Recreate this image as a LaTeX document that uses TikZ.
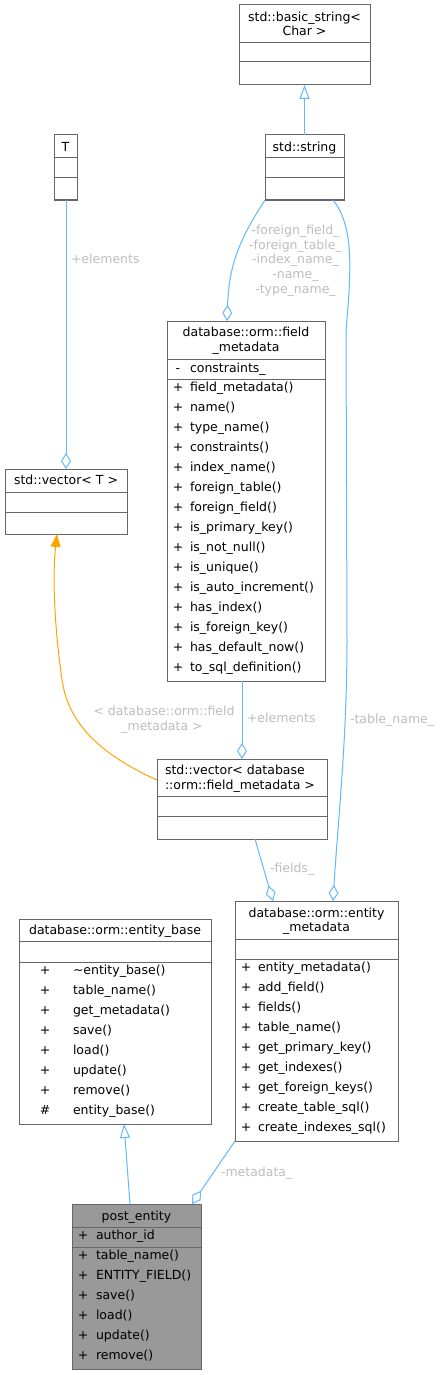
\documentclass[tikz,border=0pt]{standalone}
\usepackage{fontspec}
\setmainfont{DejaVu Sans}
\usetikzlibrary{arrows.meta,calc}
\definecolor{boxc}{HTML}{666666}
\definecolor{edgec}{HTML}{63B8FF}
\definecolor{orangec}{HTML}{FFA500}
\definecolor{labc}{HTML}{BEBEBE}
\definecolor{fillc}{HTML}{999999}
\tikzset{
 umlbox/.style={draw=boxc, line width=1pt, inner sep=0pt, outer sep=0pt, anchor=north west},
 divider/.style={draw=boxc, line width=1pt},
 txt/.style={inner sep=0pt, outer sep=0pt, font=\fontsize{12.5}{15}\selectfont, text=black},
 tl/.style={txt, anchor=base},
 tw/.style={txt, anchor=base west},
 sym/.style={txt, anchor=base},
 labw/.style={txt, text=labc, anchor=base west},
 labc/.style={txt, text=labc, anchor=base},
 agg/.style={draw=edgec, line width=1pt, arrows={Diamond[open,length=16pt,width=10pt]-}},
 inh/.style={draw=edgec, line width=1pt, arrows={-Triangle[open,length=14pt,width=10pt]}},
 tmpl/.style={draw=orangec, line width=1pt, arrows={-Triangle[length=13pt,width=10pt,fill=orangec]}}
}
\newcommand\mkbox[6]{\node[umlbox, fill=#6, minimum width=#4pt, minimum height=#5pt] (#1) at (#2,#3) {};}
\begin{document}
\begin{tikzpicture}[x=1pt,y=-1pt]
\fill[white] (0,0) rectangle (445,1375);
\useasboundingbox (0,0) rectangle (445,1375);

% boxes
\mkbox{bs}{239}{5}{131}{80}{white}
\draw[divider] (239,43) -- (370,43); \draw[divider] (239,62) -- (370,62);
\node[tl] (bs-t1) at (304.5,21.5) {std::basic\_string<};
\node[tl] (bs-t2) at (304.5,35.5) {Char >};

\mkbox{str}{265}{135}{79}{65}{white}
\draw[divider] (265,158) -- (344,158); \draw[divider] (265,178) -- (344,178);
\node[tl] (str-t) at (304.5,151.5) {std::string};

\mkbox{T}{54}{135}{23}{65}{white}
\draw[divider] (54,158) -- (77,158); \draw[divider] (54,178) -- (77,178);
\node[tl] (T-t) at (65.5,151.5) {T};

\mkbox{fm}{167}{321}{158}{360}{white}
\draw[divider] (167,359) -- (325,359); \draw[divider] (167,379) -- (325,379);
\node[tl] (fm-t1) at (246,336.5) {database::orm::field};
\node[tl] (fm-t2) at (246,351.5) {\_metadata};
\node[sym] (fm-as) at (178,372.5) {-};
\node[tw] (fm-a) at (190,372.5) {constraints\_};
\foreach \t [count=\i from 0] in {{field\_metadata()},{name()},{type\_name()},{constraints()},{index\_name()},{foreign\_table()},{foreign\_field()},{is\_primary\_key()},{is\_not\_null()},{is\_unique()},{is\_auto\_increment()},{has\_index()},{is\_foreign\_key()},{has\_default\_now()},{to\_sql\_definition()}}{
  \node[sym] (fm-s\i) at (178,{391.5+20*\i}) {+};
  \node[tw] (fm-m\i) at (190,{391.5+20*\i}) {\t};
}

\mkbox{vt}{5}{469}{122}{65}{white}
\draw[divider] (5,492) -- (127,492); \draw[divider] (5,512) -- (127,512);
\node[tl] (vt-t) at (66,484.5) {std::vector< T >};

\mkbox{vdb}{157}{759}{170}{80}{white}
\draw[divider] (157,796) -- (327,796); \draw[divider] (157,816) -- (327,816);
\node[tw] (vdb-t1) at (165,774.5) {std::vector< database};
\node[tw] (vdb-t2) at (165,789.5) {::orm::field\_metadata >};

\mkbox{em}{235}{901}{163}{240}{white}
\draw[divider] (235,939) -- (398,939); \draw[divider] (235,959) -- (398,959);
\node[tl] (em-t1) at (316.5,917.5) {database::orm::entity};
\node[tl] (em-t2) at (316.5,931.5) {\_metadata};
\foreach \t [count=\i from 0] in {{entity\_metadata()},{add\_field()},{fields()},{table\_name()},{get\_primary\_key()},{get\_indexes()},{get\_foreign\_keys()},{create\_table\_sql()},{create\_indexes\_sql()}}{
  \node[sym] (em-s\i) at (246,{971.5+20*\i}) {+};
  \node[tw] (em-m\i) at (258,{971.5+20*\i}) {\t};
}

\mkbox{eb}{19}{919}{192}{205}{white}
\draw[divider] (19,941) -- (211,941); \draw[divider] (19,962) -- (211,962);
\node[tl] (eb-t) at (115,934.5) {database::orm::entity\_base};
\foreach \s/\t [count=\i from 0] in {+/{\textasciitilde entity\_base()},+/{table\_name()},+/{get\_metadata()},+/{save()},+/{load()},+/{update()},+/{remove()},\#/{entity\_base()}}{
  \node[sym] (eb-s\i) at (45,{974.5+20*\i}) {\s};
  \node[tw] (eb-m\i) at (73,{974.5+20*\i}) {\t};
}

\mkbox{pe}{72}{1204}{129}{165}{fillc}
\draw[divider] (72,1227) -- (201,1227); \draw[divider] (72,1247) -- (201,1247);
\node[tl] (pe-t) at (136.5,1220.5) {post\_entity};
\node[sym] (pe-as) at (83,1239.5) {+};
\node[tw] (pe-a) at (96,1239.5) {author\_id};
\foreach \t [count=\i from 0] in {{table\_name()},{ENTITY\_FIELD()},{save()},{load()},{update()},{remove()}}{
  \node[sym] (pe-s\i) at (83,{1259.5+20*\i}) {+};
  \node[tw] (pe-m\i) at (96,{1259.5+20*\i}) {\t};
}

% connectors
\draw[inh] (str.north) -- (bs.south);
\draw[agg] (vt.north) -- (vt.north |- T.south);
\node[labw] (l-el1) at (71,263.5) {+elements};
\draw[agg] ([xshift=60pt]fm.north west) .. controls (229,265) and (239,240) .. (str.south west);
\node[labc] (l-f1) at (295.5,234.5) {-foreign\_field\_};
\node[labc] (l-f2) at (295.5,249.2) {-foreign\_table\_};
\node[labc] (l-f3) at (295.5,263.9) {-index\_name\_};
\node[labc] (l-f4) at (295.5,278.6) {-name\_};
\node[labc] (l-f5) at (295.5,293.3) {-type\_name\_};
\draw[agg] ([xshift=98pt]em.north west) .. controls (338,820) and (347,740) .. (347,640) -- (346,330) .. controls (352,265) and (353,225) .. ([xshift=68pt]str.south west);
\node[labw] (l-tn) at (350,723.5) {-table\_name\_};
\draw[agg] (vdb.north) -- (vdb.north |- fm.south);
\node[labw] (l-el2) at (247,722.5) {+elements};
\draw[tmpl] ([yshift=-21pt]vdb.north west) .. controls (95,752) and (68,720) .. (62,680) .. controls (55,630) and (52,580) .. ([xshift=-9pt]vt.south);
\node[labc] (l-tp1) at (164,715.5) {< database::orm::field};
\node[labc] (l-tp2) at (162,730.5) {\_metadata >};
\draw[agg] ([xshift=38pt]em.north west) -- ([xshift=98pt]vdb.south west);
\node[labw] (l-fd) at (270,872.5) {-fields\_};
\draw[agg] ([xshift=120pt]pe.north west) -- (em.south west);
\node[labw] (l-md) at (221,1176.5) {-metadata\_};
\draw[inh] ([xshift=58pt]pe.north west) -- ([xshift=105pt]eb.south west);
\end{tikzpicture}
\end{document}
